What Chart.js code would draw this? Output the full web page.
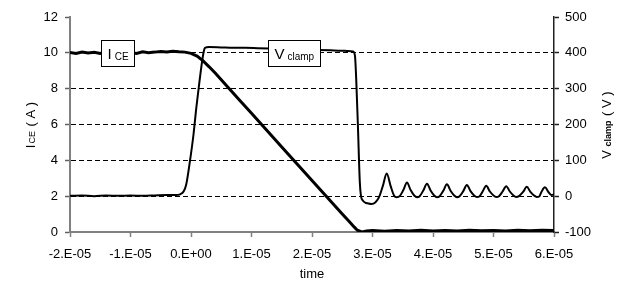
<!DOCTYPE html>
<html><head><meta charset="utf-8">
<script src="https://cdn.jsdelivr.net/npm/chart.js@4/dist/chart.umd.min.js"></script>
<style>html,body{margin:0;padding:0;background:#fff;}#wrap{width:634px;height:287px;position:relative;}</style>
</head><body><div id="wrap"><canvas id="c"></canvas></div>
<script>
// ---- data (time in units of 1e-5 s) ----
const TIME_UNIT = 1e-5;
const xTickValues = [-2, -1, 0, 1, 2, 3, 4, 5, 6];
const xTickLabels = ['-2.E-05','-1.E-05','0.E+00','1.E-05','2.E-05','3.E-05','4.E-05','5.E-05','6.E-05'];
const iceTicks = [0, 2, 4, 6, 8, 10, 12];
const vclampTicks = [-100, 0, 100, 200, 300, 400, 500];

const iceTime = [-2.0,-1.9,-1.8,-1.7,-1.6,-1.5,-1.4,-1.3,-1.2,-1.1,-1.0,-0.9,-0.8,-0.7,-0.6,-0.5,-0.4,-0.3,-0.2,-0.1,
  0.0,0.1,0.2,0.3,0.4,0.633,0.8,1.0,1.2,1.5,1.75,2.0,2.25,2.5,2.6,2.7,2.75,2.8,2.85,2.9,3.0,3.2,3.4,3.6,3.8,4.0,4.2,4.4,4.6,4.8,5.0,5.2,5.4,5.6,5.8,6.0];
const iceValues = [10.02,9.97,10.05,9.99,10.03,9.96,10.04,10.00,9.98,10.05,10.02,9.97,10.06,10.01,10.04,10.08,10.05,10.09,10.06,10.04,
  9.97,9.82,9.55,9.22,8.87,8.0,7.37,6.63,5.87,4.75,3.81,2.88,1.94,1.0,0.64,0.27,0.1,0.03,0.02,0.05,0.08,0.04,0.09,0.05,0.1,0.06,0.09,0.05,0.1,0.07,0.09,0.06,0.1,0.07,0.1,0.08];

const vclampTime = [-2.0,-1.8,-1.6,-1.4,-1.2,-1.0,-0.8,-0.6,-0.4,-0.25,-0.18,-0.12,-0.08,-0.02,0.04,0.09,0.14,0.18,0.21,0.23,
  0.3,0.5,0.7,0.9,1.1,1.3,1.5,1.7,1.9,2.1,2.3,2.5,2.6,2.68,2.71,2.73,2.76,2.79,2.81,2.84,2.88,2.92,2.98,3.05,3.11,
  3.17,3.235,3.30,3.355,3.40,3.45,
  3.51,3.57,3.63,3.69,3.735,3.78,
  3.84,3.90,3.96,4.02,4.065,4.11,
  4.17,4.23,4.29,4.35,4.395,4.44,
  4.50,4.56,4.62,4.68,4.725,4.77,
  4.82,4.88,4.94,5.00,5.045,5.09,
  5.15,5.21,5.27,5.33,5.375,5.42,
  5.49,5.55,5.61,5.67,5.715,5.76,
  5.79,5.85,5.91,5.96,6.0];
const vclampValues = [1,2,0,2,1,2,1,2,3,3,5,14,32,95,170,250,320,372,403,414,
  416,415,414,414,413,412,411,410,409,408,407,406,405,404,392,330,190,40,0,-12,-18,-20,-22,-17,-2,
  28,63,28,2,-3,0,
  17,38,17,2,-3,0,
  16,35,16,2,-3,0,
  15,33,15,2,-3,0,
  14,31,14,2,-2,0,
  13,29,13,2,-2,0,
  13,28,13,2,-2,0,
  12,26,12,2,-2,0,
  11,25,11,3,5];

const iceLabelAt = [-1.22, 10];     // time, ICE value
const vclampLabelAt = [1.71, 400];  // time, Vclamp value

const icePoints = iceTime.map((t, i) => ({x: t * TIME_UNIT, y: iceValues[i]}));
const vclampPoints = vclampTime.map((t, i) => ({x: t * TIME_UNIT, y: vclampValues[i]}));

const FONT = "'Liberation Sans', Arial, sans-serif";

function measureLabel(ctx, big, small, bigSize, smallSize, smallBold) {
  ctx.font = bigSize + 'px ' + FONT;
  const w1 = ctx.measureText(big).width;
  ctx.font = (smallBold ? 'bold ' : '') + smallSize + 'px ' + FONT;
  const w2 = ctx.measureText(small).width;
  const gap = 3;
  return {w1, w2, gap, total: w1 + gap + w2};
}

const annot = {
  id: 'annot',
  afterDatasetsDraw(chart) {
    const ctx = chart.ctx;
    const xs = chart.scales.x, yl = chart.scales.yI, yr = chart.scales.yV;
    const boxes = [
      {cx: xs.getPixelForValue(iceLabelAt[0] * TIME_UNIT), cy: yl.getPixelForValue(iceLabelAt[1]), big: 'I', small: 'CE', bs: 15, ss: 10, bold: false},
      {cx: xs.getPixelForValue(vclampLabelAt[0] * TIME_UNIT), cy: yr.getPixelForValue(vclampLabelAt[1]), big: 'V', small: 'clamp', bs: 15, ss: 10, bold: false}
    ];
    ctx.save();
    boxes.forEach(b => {
      const m = measureLabel(ctx, b.big, b.small, b.bs, b.ss, b.bold);
      const w = Math.round(m.total + 12), h = 26;
      const left = Math.round(b.cx - w / 2) + 0.5, top = Math.round(b.cy - h / 2) + 0.5;
      ctx.fillStyle = '#fff';
      ctx.fillRect(left, top, w, h);
      ctx.strokeStyle = '#000';
      ctx.lineWidth = 1;
      ctx.strokeRect(left, top, w, h);
      ctx.fillStyle = '#000';
      ctx.textBaseline = 'alphabetic';
      ctx.textAlign = 'left';
      const base = top + h / 2 + 5.5;
      let x = left + 6;
      ctx.font = b.bs + 'px ' + FONT;
      ctx.fillText(b.big, x, base);
      x += m.w1 + m.gap;
      ctx.font = (b.bold ? 'bold ' : '') + b.ss + 'px ' + FONT;
      ctx.fillText(b.small, x, base + 1);
    });
    ctx.restore();
  },
  afterDraw(chart) {
    const ctx = chart.ctx;
    const ca = chart.chartArea;
    const cy = (ca.top + ca.bottom) / 2;
    const titles = [
      {x: 31, parts: [['I', 13, false, 0], ['CE', 9, false, 1], [' ( A )', 13, false, 0]]},
      {x: 607, parts: [['V', 13, false, 0], [' clamp', 9, true, 1], [' ( V )', 13, false, 0]]}
    ];
    ctx.save();
    titles.forEach(t => {
      let total = 0;
      t.parts.forEach(p => { ctx.font = (p[2] ? 'bold ' : '') + p[1] + 'px ' + FONT; p.w = ctx.measureText(p[0]).width; total += p.w + 1; });
      ctx.save();
      ctx.translate(t.x, cy);
      ctx.rotate(-Math.PI / 2);
      ctx.fillStyle = '#000';
      ctx.textBaseline = 'middle';
      ctx.textAlign = 'left';
      let x = -total / 2;
      t.parts.forEach(p => {
        ctx.font = (p[2] ? 'bold ' : '') + p[1] + 'px ' + FONT;
        ctx.fillText(p[0], x, p[3] ? 2 : 0);
        x += p.w + 1;
      });
      ctx.restore();
    });
    ctx.restore();
  }
};

new Chart(document.getElementById('c'), {
  type: 'line',
  data: {
    datasets: [
      {label: 'ICE', data: icePoints, yAxisID: 'yI', borderColor: '#000', borderWidth: 3, pointRadius: 0, tension: 0, fill: false},
      {label: 'Vclamp', data: vclampPoints, yAxisID: 'yV', borderColor: '#000', borderWidth: 2, pointRadius: 0, cubicInterpolationMode: 'monotone', fill: false}
    ]
  },
  options: {
    responsive: true, maintainAspectRatio: false, animation: false,
    layout: {padding: {top: 17, left: 0, right: 0, bottom: 0}},
    plugins: {legend: {display: false}, tooltip: {enabled: false}},
    scales: {
      x: {
        type: 'linear', min: xTickValues[0] * TIME_UNIT, max: xTickValues[xTickValues.length - 1] * TIME_UNIT,
        afterBuildTicks: s => { s.ticks = xTickValues.map(v => ({value: v * TIME_UNIT})); },
        afterFit: s => { s.height = 55; },
        ticks: {callback: (v, i) => xTickLabels[i], color: '#000', font: {family: FONT, size: 13}, maxRotation: 0, autoSkip: false, padding: 10},
        grid: {drawOnChartArea: false, drawTicks: true, tickLength: 5, tickColor: '#808080', tickWidth: 1.5},
        border: {color: '#808080', width: 2},
        title: {display: true, text: 'time', color: '#000', font: {family: FONT, size: 13}, padding: {top: 0, bottom: 5}}
      },
      yI: {
        type: 'linear', position: 'left', min: iceTicks[0], max: iceTicks[iceTicks.length - 1],
        afterBuildTicks: s => { s.ticks = iceTicks.map(v => ({value: v})); },
        afterFit: s => { s.width = 70; },
        ticks: {color: '#000', font: {family: FONT, size: 13}, padding: 7},
        grid: {drawOnChartArea: true, color: c => (c.tick && (c.tick.value === 0 || c.tick.value === 12)) ? 'rgba(0,0,0,0)' : '#000',
               lineWidth: 1, tickLength: 5, tickColor: '#606060', tickWidth: 1.5},
        border: {color: '#808080', width: 2, dash: [5, 3]}
      },
      yV: {
        type: 'linear', position: 'right', min: vclampTicks[0], max: vclampTicks[vclampTicks.length - 1],
        afterBuildTicks: s => { s.ticks = vclampTicks.map(v => ({value: v})); },
        afterFit: s => { s.width = 80; },
        ticks: {color: '#000', font: {family: FONT, size: 13}, padding: 6},
        grid: {drawOnChartArea: false, tickLength: 5, tickColor: '#202020', tickWidth: 1.5},
        border: {color: '#202020', width: 1.5}
      }
    }
  },
  plugins: [annot]
});
</script>
</body></html>
